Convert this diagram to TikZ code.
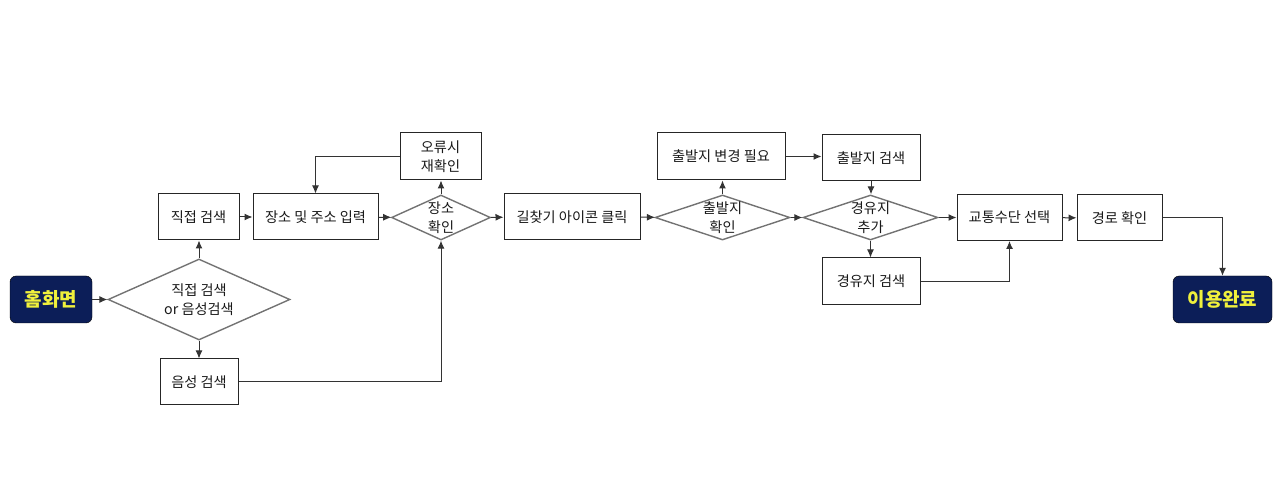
\documentclass[tikz,border=0pt]{standalone}
\usepackage{fontspec}
\setmainfont{Noto Sans CJK KR}
\usetikzlibrary{shapes.geometric,arrows.meta}
\definecolor{navy}{RGB}{12,30,88}
\definecolor{hilite}{RGB}{240,240,60}
\definecolor{edgegray}{RGB}{115,115,115}

\begin{document}
\begin{tikzpicture}[
            x = 1pt, y = -1pt,
            every node/.style = {font = \fontsize{14.2}{19.5}\selectfont, text = black!90, align = center, inner sep = 0pt},
            box/.style = {draw = black!85, line width = 1pt, minimum height = 46pt},
            decision/.style = {draw = edgegray, line width = 1.4pt, diamond},
            terminal/.style = {draw = black, fill = navy, rounded corners = 6pt, text = hilite,
                               font = \bfseries\fontsize{19}{20}\selectfont, minimum height = 47pt},
            flow/.style = {draw = black!80, line width = 1pt, -{Latex[length = 8pt, width = 7pt]}}
            ]
            \useasboundingbox (0,0) rectangle (1280,502);
            \node[terminal, minimum width = 82pt] (home) at (51,299.5) {홈화면};
            \node[decision, minimum width = 182pt, minimum height = 81pt] (choice) at (199,299.5) {};
            \node (choice-t) at (choice) {직접 검색\\or 음성검색};
            \node[box, minimum width = 81pt] (direct) at (198.5,217) {직접 검색};
            \node[box, minimum width = 78pt] (voice) at (199,382) {음성 검색};
            \node[box, minimum width = 125pt] (input) at (315.5,217) {장소 및 주소 입력};
            \node[box, minimum width = 81pt, minimum height = 47pt] (retry) at (440.5,156.5) {오류시\\재확인};
            \node[decision, minimum width = 99pt, minimum height = 45pt] (place) at (441,217.5) {};
            \node (place-t) at (place) {장소\\확인};
            \node[box, minimum width = 136pt] (icon) at (572,217) {길찾기 아이콘 클릭};
            \node[box, minimum width = 128pt, minimum height = 47pt] (change) at (721,156.5) {출발지 변경 필요};
            \node[decision, minimum width = 135pt, minimum height = 45pt] (start) at (722.5,217.5) {};
            \node (start-t) at (start) {출발지\\확인};
            \node[box, minimum width = 98pt] (startsearch) at (871,158) {출발지 검색};
            \node[decision, minimum width = 135pt, minimum height = 45pt] (via) at (870.5,217.5) {};
            \node (via-t) at (via) {경유지\\추가};
            \node[box, minimum width = 98pt, minimum height = 47pt] (viasearch) at (871,281.5) {경유지 검색};
            \node[box, minimum width = 105pt] (mode) at (1009.5,217.5) {교통수단 선택};
            \node[box, minimum width = 85pt] (route) at (1119.5,218) {경로 확인};
            \node[terminal, minimum width = 99pt] (done) at (1222.5,299.5) {이용완료};

            \draw[flow] (home) -- (choice);
            \draw[flow] (choice.north) -- (choice.north |- direct.south);
            \draw[flow] (choice.south) -- (choice.south |- voice.north);
            \draw[flow] (direct) -- (input);
            \draw[flow] (voice.east) -| (place.south);
            \draw[flow] (input) -- (place);
            \draw[flow] (place.north) -- (place.north |- retry.south);
            \draw[flow] (retry.west) -| (input.north);
            \draw[flow] (place) -- (icon);
            \draw[flow] (icon) -- (start);
            \draw[flow] (start.north) -- (start.north |- change.south);
            \draw[flow] (change.east) -- (change.east -| startsearch.west);
            \draw[flow] (start) -- (via);
            \draw[flow] (startsearch.south) -- (startsearch.south |- via.north);
            \draw[flow] (via.south) -- (via.south |- viasearch.north);
            \draw[flow] (via) -- (mode);
            \draw[flow] (viasearch.east) -| (mode.south);
            \draw[flow] (mode) -- (route);
            \draw[flow] (route.east) -| (done.north);
          \end{tikzpicture}
\end{document}
